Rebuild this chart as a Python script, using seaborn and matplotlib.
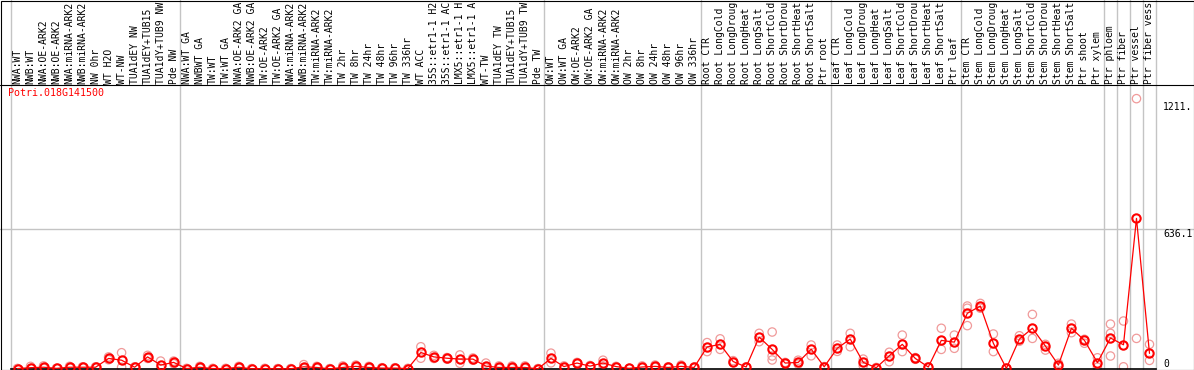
import numpy as np
import pandas as pd
import matplotlib
matplotlib.use("Agg")
import matplotlib.pyplot as plt
from matplotlib.patches import Rectangle
from matplotlib.lines import Line2D
import seaborn as sns

gene = "Potri.018G141500"

# sample names as printed in the header (long ones are cut at the top edge)
samples = [
    "NWA:WT", "NWB:WT", "NWA:OE-ARK2", "NWB:OE-ARK2", "NWA:miRNA-ARK2", "NWB:miRNA-ARK2",
    "NW 0hr", "WT H2O", "WT-NW", "TUA1dEY NW", "TUA1dEY+TUB15", "TUA1dY+TUB9 NW", "Pde NW",
    "NWA:WT GA", "NWBWT GA", "TW:WT", "TW:WT GA", "NWA:OE-ARK2 GA", "NWB:OE-ARK2 GA",
    "TW:OE-ARK2", "TW:OE-ARK2 GA", "NWA:miRNA-ARK2", "NWB:miRNA-ARK2", "TW:miRNA-ARK2",
    "TW:miRNA-ARK2", "TW 2hr", "TW 8hr", "TW 24hr", "TW 48hr", "TW 96hr", "TW 336hr",
    "WT ACC", "35S::etr1-1 H2", "35S::etr1-1 AC", "LMX5::etr1-1 H", "LMX5::etr1-1 A",
    "WT-TW", "TUA1dEY TW", "TUA1dEY+TUB15", "TUA1dY+TUB9 TW", "Pde TW",
    "OW:WT", "OW:WT GA", "OW:OE-ARK2", "OW:OE-ARK2 GA", "OW:miRNA-ARK2", "OW:miRNA-ARK2",
    "OW 2hr", "OW 8hr", "OW 24hr", "OW 48hr", "OW 96hr", "OW 336hr",
    "Root CTR", "Root LongCold", "Root LongDroug", "Root LongHeat", "Root LongSalt",
    "Root ShortCold", "Root ShortDrou", "Root ShortHeat", "Root ShortSalt", "Ptr root",
    "Leaf CTR", "Leaf LongCold", "Leaf LongDroug", "Leaf LongHeat", "Leaf LongSalt",
    "Leaf ShortCold", "Leaf ShortDrou", "Leaf ShortHeat", "Leaf ShortSalt", "Ptr leaf",
    "Stem CTR", "Stem LongCold", "Stem LongDroug", "Stem LongHeat", "Stem LongSalt",
    "Stem ShortCold", "Stem ShortDrou", "Stem ShortHeat", "Stem ShortSalt", "Ptr shoot",
    "Ptr xylem", "Ptr phloem", "Ptr fiber", "Ptr vessel", "Ptr fiber vess",
]

# samples per block between the grey separators
group_sizes = [13, 28, 12, 10, 10, 11, 1, 1, 1, 1]

# mean expression per sample
means = [
    2, 6, 8, 3, 8, 8, 8, 48, 40, 8, 55, 18, 30,
    2, 8, 2, 2, 8, 1, 2, 1, 1, 10, 7, 1, 7, 12, 7, 4, 4, 2,
    75, 55, 49, 45, 45, 13, 7, 7, 7, 1,
    48, 11, 27, 13, 27, 11, 3, 9, 12, 7, 12, 7,
    100, 112, 34, 9, 145, 89, 27, 30, 90, 10,
    94, 136, 30, 6, 60, 112, 48, 9, 130, 122,
    253, 286, 117, 3, 136, 185, 104, 18, 185, 130,
    29, 141, 110, 684, 71,
]

# individual replicates
rep_a = [
    2, 12, 14, 3, 12, 10, 10, 55, 74, 10, 62, 36, 36,
    3, 12, 3, 3, 12, 2, 3, 2, 2, 20, 12, 2, 14, 18, 12, 6, 6, 3,
    101, 62, 52, 64, 50, 27, 14, 14, 14, 2,
    72, 14, 30, 16, 40, 12, 3, 14, 18, 10, 18, 9,
    120, 137, 38, 10, 162, 168, 30, 40, 109, 11,
    109, 162, 45, 7, 76, 154, 52, 10, 185, 154,
    286, 298, 159, 3, 151, 248, 112, 26, 204, 135,
    51, 204, 218, 1228, 112,
]
rep_b = [
    2, 3, 4, 3, 5, 6, 6, 42, 8, 6, 48, 3, 24,
    1, 4, 1, 1, 4, 1, 1, 1, 1, 2, 3, 1, 2, 6, 3, 2, 2, 1,
    49, 48, 45, 26, 40, 5, 2, 2, 2, 1,
    28, 8, 24, 10, 14, 9, 2, 5, 7, 4, 7, 4,
    79, 89, 30, 8, 124, 59, 24, 22, 60, 9,
    80, 101, 15, 5, 33, 79, 44, 8, 89, 94,
    197, 276, 79, 3, 126, 139, 86, 10, 165, 117,
    8, 162, 10, 139, 39,
]
rep_c = [np.nan] * 88
rep_c[58] = 41
rep_c[73] = 276
rep_c[84] = 59

y_max = 1290
y_ticks = [0, 636.1, 1211.5]
y_ticklabels = ["0", "636.1", "1211."]

W, H = 1194, 370
ax_left, ax_right, ax_top, ax_bottom = 11, 1156, 85, 369

sns.set_style("white")
plt.rcParams["font.family"] = ["DejaVu Sans Mono"]

fig = plt.figure(figsize=(W / 100, H / 100), dpi=100)
ax = fig.add_axes([ax_left / W, (H - ax_bottom) / H,
                   (ax_right - ax_left) / W, (ax_bottom - ax_top) / H])

x = np.arange(len(samples))
reps = pd.DataFrame({"x": np.tile(x, 3),
                     "value": np.concatenate([rep_a, rep_b, rep_c])}).dropna()
mean_df = pd.DataFrame({"x": x, "value": means})

red = "#ff0000"
pink = "#f09a9a"
grey = "#c4c4c4"

# separators and grid
bounds = np.concatenate([[0], np.cumsum(group_sizes)]) - 0.5
ext = ax_bottom / (ax_bottom - ax_top)
for b in bounds:
    ax.axvline(b, ymin=0, ymax=ext, color=grey, lw=1, clip_on=False, zorder=0)
ax.axhline(636.1, xmin=-ax_left / (ax_right - ax_left),
           xmax=(W - 1 - ax_left) / (ax_right - ax_left),
           color=grey, lw=1, clip_on=False, zorder=0)

sns.scatterplot(data=reps, x="x", y="value", ax=ax, marker="o", s=36,
                color=pink, facecolors="none", edgecolor=pink, linewidth=0.9,
                clip_on=False, zorder=2)
sns.lineplot(data=mean_df, x="x", y="value", ax=ax, color=red, lw=0.9,
             marker="o", markersize=6.0, markerfacecolor="none",
             markeredgecolor=red, markeredgewidth=1.5, clip_on=False, zorder=3)

ax.set_xlim(-0.5, len(samples) - 0.5)
ax.set_ylim(0, y_max)
ax.set_xlabel("")
ax.set_ylabel("")

ax.xaxis.tick_top()
ax.set_xticks(x)
ax.set_xticklabels(samples, rotation=90)
ax.tick_params(axis="x", length=0, pad=0.8, labelsize=7.0, colors="black")

ax.yaxis.tick_right()
ax.set_yticks(y_ticks)
ax.set_yticklabels(y_ticklabels)
ax.tick_params(axis="y", length=0, pad=5.0, labelsize=7.0, colors="black")
for i, lab in enumerate(ax.get_yticklabels()):
    lab.set_verticalalignment("bottom" if i == 0 else "top")

for side in ["top", "left", "right"]:
    ax.spines[side].set_visible(False)
ax.spines["bottom"].set_color("black")
ax.spines["bottom"].set_linewidth(1.2)

ax.text(-3 / (ax_right - ax_left), 1 - 3 / (ax_bottom - ax_top), gene,
        transform=ax.transAxes, color=red, fontsize=7.2, ha="left", va="top")

# frame and header separator
fig.add_artist(Rectangle((0.5 / W, 0.5 / H), (W - 1) / W, (H - 1) / H,
                         transform=fig.transFigure, fill=False, ec="black", lw=0.8))
fig.add_artist(Line2D([0, 1], [(H - ax_top) / H] * 2, transform=fig.transFigure,
                      color="black", lw=0.8))

fig.savefig("out.png", dpi=100)
